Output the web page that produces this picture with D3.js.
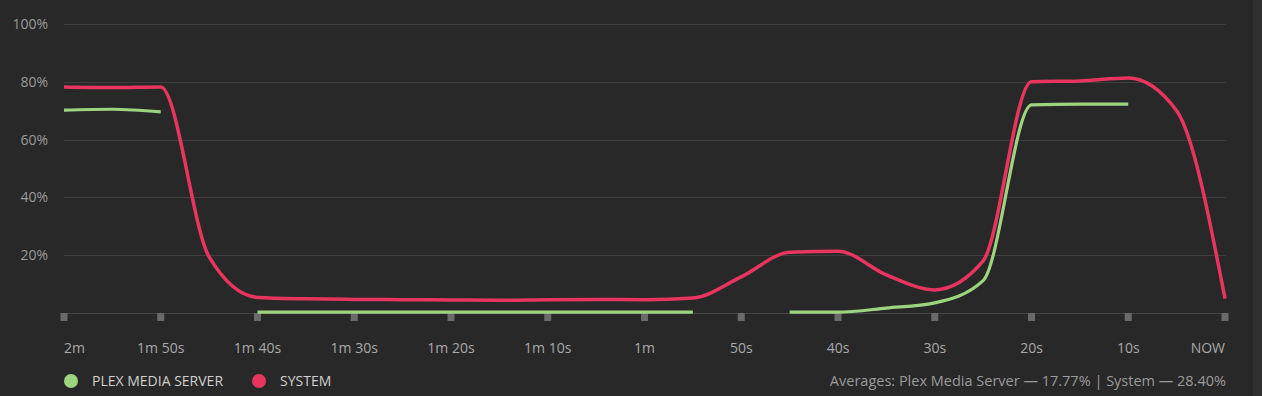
<!DOCTYPE html>
<html><head><meta charset="utf-8">
<script src="https://cdn.jsdelivr.net/npm/d3@7"></script>
<style>
html,body{margin:0;padding:0;background:#282828;}
svg{display:block;}
text{font-family:"Open Sans",sans-serif;}
</style></head>
<body><svg id="c" width="1262" height="396"></svg>
<script>
// seconds ago, sampled every 5 s
const times = [120,115,110,105,100,95,90,85,80,75,70,65,60,55,50,45,40,35,30,25,20,15,10,5,0];
const systemValues = [78.2,78.0,78.2,19.4,5.4,4.9,4.7,4.6,4.5,4.4,4.6,4.7,4.6,5.2,12.5,21.0,21.4,13.2,8.0,18.0,80.0,80.3,81.3,70.0,5.0];
const plexValues = [70.2,70.5,69.6,null,0.3,0.3,0.3,0.3,0.3,0.3,0.3,0.3,0.3,0.3,null,0.3,0.3,1.7,3.5,11.2,72.0,72.3,72.3,null,null];
const xTickValues = [120,110,100,90,80,70,60,50,40,30,20,10,0];
const xTickLabels = ["2m","1m 50s","1m 40s","1m 30s","1m 20s","1m 10s","1m","50s","40s","30s","20s","10s","NOW"];
const yTickValues = [20,40,60,80,100];
const seriesNames = ["PLEX MEDIA SERVER","SYSTEM"];
const seriesColors = ["#9dd47f","#e8355f"];
const averagesText = "Averages: Plex Media Server \u2014 17.77% | System \u2014 28.40%";

const svg = d3.select("#c");
const L = 64, R = 1225, T = 24, B = 313;
const x = d3.scaleLinear().domain([120,0]).range([L,R]);
const y = d3.scaleLinear().domain([0,100]).range([B,T]);

// right strip
svg.append("rect").attr("x",1253).attr("y",0).attr("width",9).attr("height",396).attr("fill","#303030");

// grid
const grid = svg.append("g");
grid.selectAll("line").data(yTickValues).join("line")
  .attr("x1",L).attr("x2",R+1).attr("y1",d=>Math.round(y(d))+0.5).attr("y2",d=>Math.round(y(d))+0.5)
  .attr("stroke","#3e3e3e").attr("stroke-width",1);
grid.selectAll("text").data(yTickValues).join("text")
  .attr("x",48).attr("y",d=>y(d)).attr("dy","0.35em").attr("text-anchor","end")
  .attr("fill","#9a9a9a").attr("font-size",14).text(d=>d+"%");

// axis baseline
svg.append("line").attr("x1",L).attr("x2",R+1).attr("y1",B+0.5).attr("y2",B+0.5).attr("stroke","#444").attr("stroke-width",1);

// tick squares
svg.append("g").selectAll("rect").data(xTickValues).join("rect")
  .attr("x",d=>x(d)-3.5).attr("y",B).attr("width",7).attr("height",8).attr("fill","#6a6a6a");

// tick labels
svg.append("g").selectAll("text").data(xTickValues).join("text")
  .attr("x",d=>x(d)).attr("y",353)
  .attr("text-anchor",(d,i)=> i===0 ? "start" : (i===xTickValues.length-1 ? "end" : "middle"))
  .attr("fill","#a8a8a8").attr("font-size",14)
  .text((d,i)=>xTickLabels[i]);

// lines
const mk = vals => d3.line()
  .defined(d=>d[1]!=null)
  .x(d=>x(d[0])).y(d=>y(d[1]))
  .curve(d3.curveMonotoneX)(times.map((t,i)=>[t,vals[i]]));

svg.append("path").attr("d",mk(plexValues)).attr("fill","none")
  .attr("stroke",seriesColors[0]).attr("stroke-width",3.2);
svg.append("path").attr("d",mk(systemValues)).attr("fill","none")
  .attr("stroke",seriesColors[1]).attr("stroke-width",3.5).attr("stroke-linejoin","round");

// legend
const legX = [71,259];
const lg = svg.append("g");
seriesNames.forEach((n,i)=>{
  lg.append("circle").attr("cx",legX[i]).attr("cy",381).attr("r",7).attr("fill",seriesColors[i]);
  lg.append("text").attr("x",legX[i]+21).attr("y",381).attr("dy","0.35em")
    .attr("fill","#cfcfcf").attr("font-size",14).text(n);
});
svg.append("text").attr("x",1226).attr("y",381).attr("dy","0.35em").attr("text-anchor","end")
  .attr("fill","#9a9a9a").attr("font-size",14.5).text(averagesText);
</script></body></html>
